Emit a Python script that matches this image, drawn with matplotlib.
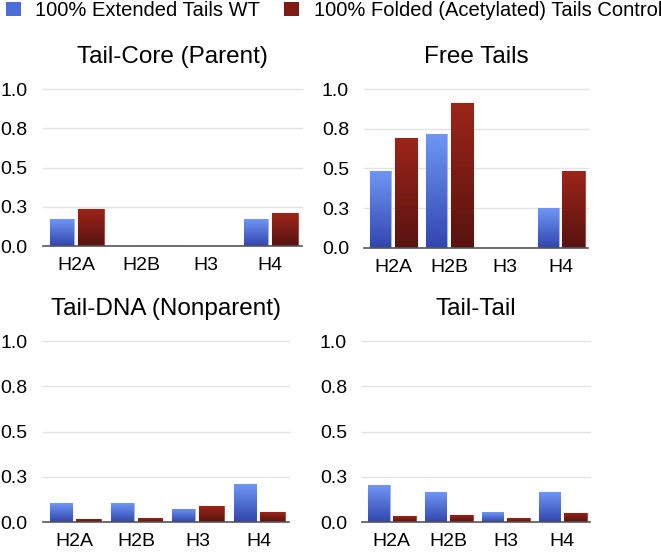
import matplotlib
matplotlib.use("Agg")
import matplotlib.pyplot as plt
import numpy as np
from matplotlib.colors import LinearSegmentedColormap
from matplotlib.patches import Patch

plt.rcParams["font.family"] = ["Liberation Sans", "DejaVu Sans"]

# ------------------------------------------------------------------ #
# Data
# ------------------------------------------------------------------ #
histones = ["H2A", "H2B", "H3", "H4"]
series_names = ["100% Extended Tails WT", "100% Folded (Acetylated) Tails Control"]

panel_titles = ["Tail-Core (Parent)", "Free Tails", "Tail-DNA (Nonparent)", "Tail-Tail"]

tail_core_wt = [0.17, 0.0, 0.0, 0.17]
tail_core_ctrl = [0.235, 0.0, 0.0, 0.21]

free_tails_wt = [0.485, 0.715, 0.0, 0.25]
free_tails_ctrl = [0.69, 0.915, 0.0, 0.485]

tail_dna_wt = [0.105, 0.105, 0.072, 0.21]
tail_dna_ctrl = [0.017, 0.022, 0.088, 0.055]

tail_tail_wt = [0.204, 0.165, 0.055, 0.165]
tail_tail_ctrl = [0.033, 0.039, 0.022, 0.05]

yticks = [0.0, 0.25, 0.5, 0.75, 1.0]
ytick_labels = ["0.0", "0.3", "0.5", "0.8", "1.0"]

# ------------------------------------------------------------------ #
# Style
# ------------------------------------------------------------------ #
BLUE_TOP, BLUE_BOT = "#6f96f4", "#3246ae"
RED_TOP, RED_BOT = "#9c2519", "#581310"
cmap_blue = LinearSegmentedColormap.from_list("b", [BLUE_BOT, BLUE_TOP])
cmap_red = LinearSegmentedColormap.from_list("r", [RED_BOT, RED_TOP])
GRAD = np.linspace(0, 1, 64).reshape(-1, 1)

# axes rectangles in figure fraction (left, bottom, width, height)
rects = [
    (0.065, 0.555, 0.392, 0.284),
    (0.551, 0.552, 0.339, 0.287),
    (0.065, 0.056, 0.372, 0.327),
    (0.548, 0.056, 0.345, 0.327),
]


def gradient_bars(ax, x, vals, width, cmap, edge):
    bars = ax.bar(x, vals, width, color=cmap(0.5), edgecolor=edge, linewidth=0.8, zorder=2)
    for bar in bars:
        h = bar.get_height()
        if h <= 0:
            continue
        x0 = bar.get_x()
        im = ax.imshow(GRAD, cmap=cmap, origin="lower", aspect="auto",
                       extent=[x0, x0 + bar.get_width(), 0, h], zorder=2.1)
        im.set_clip_path(bar)
    return bars


def draw_panel(ax, title, wt, ctrl):
    x = np.arange(len(histones))
    gradient_bars(ax, x - 0.225, wt, 0.37, cmap_blue, "#9fb8f5")
    gradient_bars(ax, x + 0.225, ctrl, 0.40, cmap_red, "#b04a40")
    ax.set_xlim(-0.52, 3.49)
    ax.set_ylim(0, 1.0)
    ax.set_yticks(yticks)
    ax.set_yticklabels(ytick_labels, fontsize=14)
    ax.set_xticks(x)
    ax.set_xticklabels(histones, fontsize=14)
    ax.tick_params(axis="x", length=0, pad=8)
    ax.tick_params(axis="y", length=0, pad=11)
    for yv in yticks[1:]:
        ax.axhline(yv, color="#e4e4e4", linewidth=1, zorder=1, clip_on=False)
    for s in ["left", "right", "top"]:
        ax.spines[s].set_visible(False)
    ax.spines["bottom"].set_color("#555555")
    ax.spines["bottom"].set_linewidth(1.2)
    ax.spines["bottom"].set_zorder(3)
    ax.set_title(title, fontsize=17.5, pad=19)


fig = plt.figure(figsize=(6.61, 5.53), dpi=100)

panel_data = [
    (tail_core_wt, tail_core_ctrl),
    (free_tails_wt, free_tails_ctrl),
    (tail_dna_wt, tail_dna_ctrl),
    (tail_tail_wt, tail_tail_ctrl),
]

for rect, title, (wt, ctrl) in zip(rects, panel_titles, panel_data):
    ax = fig.add_axes(rect)
    draw_panel(ax, title, wt, ctrl)

handles = [Patch(facecolor="#4c6cd6", edgecolor="none"),
           Patch(facecolor="#7e1c14", edgecolor="none")]
fig.legend(handles, series_names, loc="upper left", bbox_to_anchor=(0.009, 0.998),
           ncol=2, frameon=False, fontsize=14.5, handlelength=0.75, handleheight=0.75,
           handletextpad=0.7, columnspacing=1.2, borderpad=0, borderaxespad=0)

fig.savefig("out.png", dpi=100)
